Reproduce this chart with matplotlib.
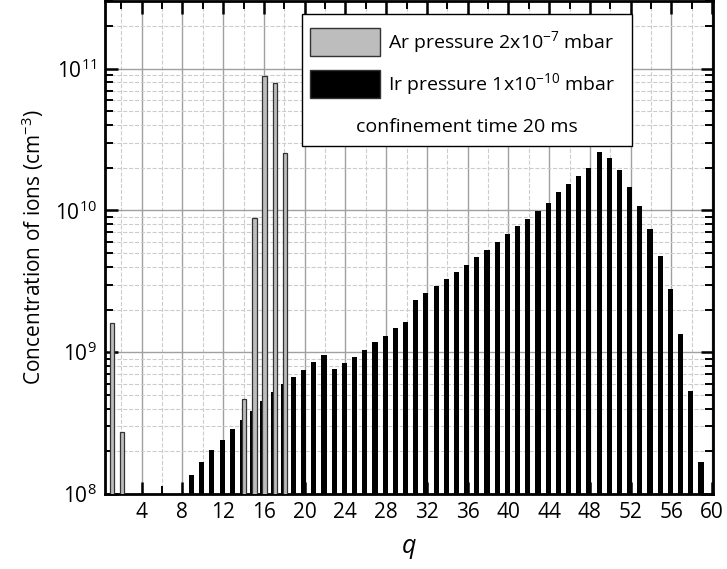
import numpy as np
import matplotlib
matplotlib.use("Agg")
import matplotlib.pyplot as plt
from matplotlib.patches import Patch, Rectangle
from matplotlib.ticker import MultipleLocator, LogLocator, NullFormatter

plt.rcParams['font.family'] = ['Open Sans', 'DejaVu Sans']
plt.rcParams['mathtext.fontset'] = 'custom'
plt.rcParams['mathtext.rm'] = 'Open Sans'
plt.rcParams['mathtext.it'] = 'Open Sans:italic'

# Ar (residual gas) ions
ar_q = [1, 2, 14, 15, 16, 17, 18]
ar_conc = [1.61e9, 2.75e8, 4.68e8, 8.8e9, 8.9e10, 7.9e10, 2.55e10]

# Ir ions
ir_q = list(range(9, 60))
ir_conc = [1.37e8, 1.68e8, 2.03e8, 2.42e8, 2.87e8, 3.34e8, 3.87e8, 4.49e8,
           5.2e8, 5.92e8, 6.66e8, 7.54e8, 8.53e8, 9.55e8, 7.62e8, 8.43e8,
           9.32e8, 1.03e9, 1.18e9, 1.30e9, 1.47e9, 1.64e9, 2.33e9, 2.63e9,
           2.94e9, 3.29e9, 3.7e9, 4.11e9, 4.71e9, 5.27e9, 6.0e9, 6.78e9,
           7.72e9, 8.73e9, 9.93e9, 1.13e10, 1.34e10, 1.54e10, 1.75e10,
           1.99e10, 2.59e10, 2.33e10, 1.93e10, 1.46e10, 1.07e10, 7.36e9,
           4.79e9, 2.77e9, 1.35e9, 5.36e8, 1.67e8]

ar_label = 'Ar pressure 2x10$^{-7}$ mbar'
ir_label = 'Ir pressure 1x10$^{-10}$ mbar'
note = 'confinement time 20 ms'

fig = plt.figure(figsize=(7.27, 5.69), dpi=100)
ax = fig.add_axes([0.1444, 0.132, 0.8366, 0.866])
ax.set_yscale('log')

ax.bar(np.array(ir_q) - 0.1, ir_conc, width=0.5, color='black', zorder=2)
ax.bar(np.array(ar_q) + 0.07, ar_conc, width=0.42, color='#bdbdbd',
       edgecolor='#333333', linewidth=0.9, zorder=3)

ax.set_xlim(0.4, 60.1)
ax.set_ylim(1e8, 3e11)

ax.xaxis.set_major_locator(MultipleLocator(4))
ax.xaxis.set_minor_locator(MultipleLocator(2))
ax.yaxis.set_major_locator(LogLocator(base=10))
ax.yaxis.set_minor_locator(LogLocator(base=10, subs=np.arange(2, 10)))
ax.yaxis.set_minor_formatter(NullFormatter())

ax.set_axisbelow(True)
ax.grid(which='major', color='#a0a0a0', linewidth=1.0, linestyle='-')
ax.grid(which='minor', color='#cccccc', linewidth=0.8, linestyle='--')

ax.tick_params(which='both', direction='in', top=True, right=True)
ax.tick_params(which='major', length=9, width=1.8, labelsize=15, pad=6)
ax.tick_params(which='minor', length=6, width=1.4)
for s in ax.spines.values():
    s.set_linewidth(2)

ax.set_xlabel('$q$', fontsize=18, labelpad=9)
ax.set_ylabel('Concentration of ions (cm$^{-3}$)', fontsize=15, labelpad=6)

# legend box
ax.add_patch(Rectangle((0.324, 0.706), 0.543, 0.268, transform=ax.transAxes,
                       facecolor='white', edgecolor='black', linewidth=1, zorder=5))
handles = [Patch(facecolor='#bdbdbd', edgecolor='#333333', linewidth=1),
           Patch(facecolor='black', edgecolor='#333333', linewidth=1)]
leg = ax.legend(handles, [ar_label, ir_label], loc='upper left',
                bbox_to_anchor=(0.337, 0.945), frameon=False, fontsize=14,
                handlelength=3.6, handleheight=1.8, handletextpad=0.4,
                labelspacing=0.75, borderpad=0, borderaxespad=0)
leg.set_zorder(6)
ax.text(0.5955, 0.744, note, transform=ax.transAxes, ha='center', va='center',
        fontsize=14, zorder=6)

fig.savefig('out.png', dpi=100)
